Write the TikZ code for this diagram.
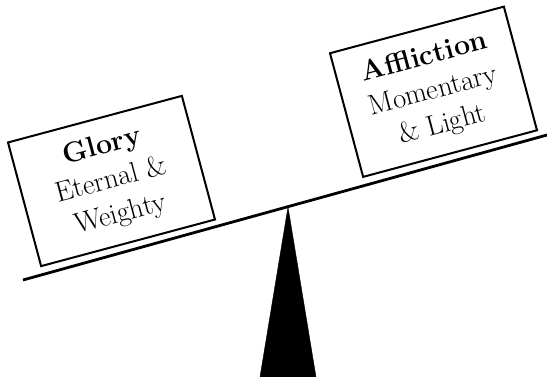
\documentclass[tikz,border=0pt]{standalone}
\usepackage{fontspec}
\begin{document}
\begin{tikzpicture}[x=1pt,y=-1pt]
    \useasboundingbox (0,0) rectangle (547,377);
    \tikzset{weight/.style={draw,line width=2pt,rotate=15,minimum width=180pt,minimum height=128pt,align=center,font=\fontsize{28.5}{35}\selectfont}}
    \coordinate (beamleft) at (23,280);
    \coordinate (beamright) at (547,135);
    \coordinate (apex) at (288,207);
    \draw[line width=2.8pt] (beamleft) -- (beamright);
    \filldraw[black] (apex) -- (260,377) -- (316,377) -- cycle;
    \node[weight] (glory) at (111.5,181) {\textbf{Glory}\\Eternal \&\\Weighty};
    \node[weight] (affliction) at (433.5,91.75) {\textbf{Affliction}\\Momentary\\\& Light};
\end{tikzpicture}
\end{document}
